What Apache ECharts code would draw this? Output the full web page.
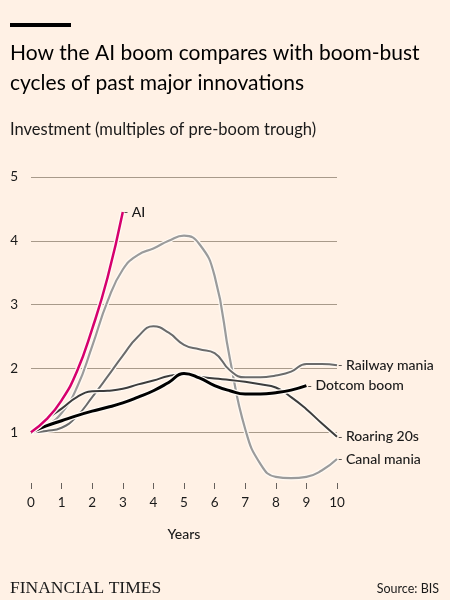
<!DOCTYPE html>
<html>
<head>
<meta charset="utf-8">
<script src="https://cdn.jsdelivr.net/npm/echarts@6/dist/echarts.min.js"></script>
<style>
  html, body { margin: 0; padding: 0; background: #fff1e5; }
  #main { width: 450px; height: 600px; }
</style>
</head>
<body>
<div id="main"></div>
<script>
// years, read every half year off the picture
var years = [0, 0.5, 1, 1.5, 2, 2.5, 3, 3.5, 4, 4.5, 5, 5.5, 6, 6.5, 7, 7.5, 8, 8.5, 9, 9.5, 10];

var canalMania   = [1, 1.1, 1.3, 1.7, 2.35, 3.05, 3.55, 3.78, 3.88, 4.0, 4.08, 3.95, 3.45, 2.15, 1.05, 0.5, 0.3, 0.28, 0.3, 0.4, 0.58];
var railwayMania = [1, 1.02, 1.07, 1.25, 1.55, 1.87, 2.2, 2.5, 2.66, 2.56, 2.37, 2.3, 2.24, 1.97, 1.86, 1.86, 1.89, 1.95, 2.07, 2.07, 2.05];
var roaring20s   = [1, 1.2, 1.37, 1.55, 1.64, 1.65, 1.68, 1.75, 1.81, 1.88, 1.91, 1.87, 1.84, 1.82, 1.79, 1.75, 1.7, 1.55, 1.36, 1.14, 0.93];
var dotcomBoom   = [1, 1.1, 1.18, 1.26, 1.33, 1.39, 1.46, 1.55, 1.65, 1.78, 1.92, 1.85, 1.73, 1.65, 1.6, 1.6, 1.62, 1.66, 1.73];
var aiBoom       = [1, 1.2, 1.5, 1.95, 2.62, 3.42, 4.45];

var yTicks = [0, 1, 2, 3, 4, 5];

function pts(vals) {
    var out = [];
    for (var i = 0; i < vals.length; i++) out.push([years[i], vals[i]]);
    return out;
}

var bg = '#fff1e5';
var font = 'Lato';

// each line gets a light casing underneath, like the FT style
function makeLine(name, vals, color, width, label) {
    var casing = {
        name: name + '_casing',
        type: 'line',
        data: pts(vals),
        smooth: 0.5,
        showSymbol: false,
        silent: true,
        lineStyle: { color: '#fffaf4', width: width + 2.5 }
    };
    var line = {
        name: name,
        type: 'line',
        data: pts(vals),
        smooth: 0.5,
        showSymbol: false,
        lineStyle: { color: color, width: width },
        endLabel: {
            show: true,
            formatter: '{d|-} ' + label,
            distance: 1,
            color: '#1a1a1a',
            fontFamily: font,
            fontSize: 14,
            fontWeight: 500,
            rich: { d: { color: '#55504c', fontSize: 12, fontFamily: font } }
        }
    };
    return [casing, line];
}

var series = [].concat(
    makeLine('canal', canalMania, '#9b9b9b', 2.2, 'Canal mania'),
    makeLine('railway', railwayMania, '#6b6b6b', 2, 'Railway mania'),
    makeLine('roaring', roaring20s, '#3c3c3c', 2, 'Roaring 20s'),
    makeLine('dotcom', dotcomBoom, '#000000', 3, 'Dotcom boom'),
    makeLine('ai', aiBoom, '#d6006d', 2.5, 'AI')
);

var myChart = echarts.init(document.getElementById('main'));
var option = {
    backgroundColor: bg,
    animation: false,
    textStyle: { fontFamily: font },
    title: [
        {
            text: 'How the AI boom compares with boom-bust\ncycles of past major innovations',
            left: 10, top: 38, padding: 0,
            textStyle: { fontFamily: font, fontSize: 21, fontWeight: 'normal', color: '#000', lineHeight: 30 }
        },
        {
            text: 'Investment (multiples of pre-boom trough)',
            left: 10, top: 121, padding: 0,
            textStyle: { fontFamily: font, fontSize: 16.5, fontWeight: 'normal', color: '#1a1a1a' }
        },
        {
            text: 'FINANCIAL TIMES',
            left: 10, top: 579, padding: 0,
            textStyle: { fontFamily: 'Liberation Serif', fontSize: 17.5, fontWeight: 'normal', color: '#1a1a1a' }
        },
        {
            text: 'Source: BIS',
            right: 11, top: 582, padding: 0,
            textStyle: { fontFamily: font, fontSize: 12.5, fontWeight: 'normal', color: '#1a1a1a' }
        }
    ],
    graphic: [
        { type: 'rect', left: 10, top: 23, shape: { width: 61, height: 4 }, style: { fill: '#000' } }
    ],
    grid: { left: 31, right: 113, top: 177, bottom: 104 },
    xAxis: {
        type: 'value',
        min: 0, max: 10, interval: 1,
        offset: -7,
        name: 'Years',
        nameLocation: 'middle',
        nameGap: 38,
        nameTextStyle: { fontFamily: font, fontSize: 14, fontWeight: 500, color: '#1a1a1a' },
        axisLine: { show: false },
        axisTick: { show: true, inside: true, length: 6, lineStyle: { color: '#66605c', width: 1 } },
        axisLabel: { margin: 7, fontSize: 13.5, color: '#1a1a1a', fontFamily: font },
        splitLine: { show: false }
    },
    yAxis: {
        type: 'value',
        min: yTicks[0], max: yTicks[yTicks.length - 1], interval: 1,
        axisLine: { show: false },
        axisTick: { show: false },
        axisLabel: {
            margin: 13, fontSize: 13.5, color: '#1a1a1a', fontFamily: font,
            formatter: function (v) { return v === 0 ? '' : v; }
        },
        splitLine: {
            show: true,
            lineStyle: { color: ['rgba(0,0,0,0)', '#a89a8a', '#a89a8a', '#a89a8a', '#a89a8a', '#a89a8a'], width: 1 }
        }
    },
    series: series
};
myChart.setOption(option);
</script>
</body>
</html>
